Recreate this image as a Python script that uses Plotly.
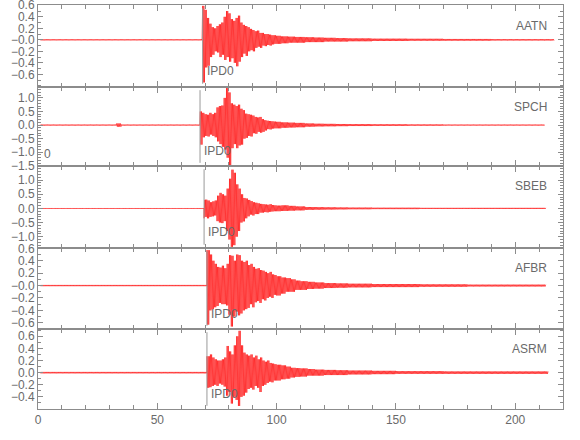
import plotly.graph_objects as go
from plotly.subplots import make_subplots

# ---------------- data ----------------
STATIONS = ["AATN", "SPCH", "SBEB", "AFBR", "ASRM"]
PICKS = [69.0, 67.9, 69.6, 70.8, 70.8]          # IPD0 pick times (s)
T_END = [216.5, 212.5, 213.0, 213.0, 214.0]     # end of each record (s)
PICK_LABEL = "IPD0"

# envelope knots: time (s), upper peak, lower peak (each held until next knot)
AATN_T = [1, 68, 69, 70, 71, 72, 73, 74, 75, 76, 77, 78, 79, 80, 81, 82, 83, 84, 85, 86, 87, 88, 89, 90,
          91, 92, 93, 94, 95, 96, 97, 98, 99, 100, 102, 105, 108, 112, 116, 120, 125, 130, 140, 155, 170, 190]
AATN_HI = [0.01, 0.01, 0.59, 0.52, 0.38, 0.28, 0.22, 0.2, 0.24, 0.27, 0.3, 0.4, 0.5, 0.46, 0.36, 0.33, 0.38,
           0.42, 0.3, 0.26, 0.24, 0.22, 0.19, 0.17, 0.15, 0.16, 0.12, 0.12, 0.1, 0.1, 0.09, 0.08, 0.08, 0.07,
           0.06, 0.055, 0.05, 0.045, 0.04, 0.035, 0.03, 0.025, 0.02, 0.018, 0.015, 0.012]
AATN_LO = [-0.01, -0.01, -0.74, -0.48, -0.45, -0.3, -0.26, -0.2, -0.22, -0.3, -0.26, -0.35, -0.3, -0.38,
           -0.32, -0.4, -0.46, -0.38, -0.3, -0.24, -0.28, -0.2, -0.18, -0.2, -0.14, -0.12, -0.14, -0.1, -0.11,
           -0.09, -0.1, -0.08, -0.07, -0.07, -0.06, -0.05, -0.05, -0.04, -0.04, -0.03, -0.03, -0.025, -0.02,
           -0.016, -0.015, -0.012]

SPCH_T = [1, 33, 35, 68, 69, 70, 71, 72, 73, 74, 75, 76, 77, 78, 79, 80, 81, 82, 83, 84, 85, 86, 87, 88, 89,
          90, 91, 92, 93, 94, 95, 96, 97, 98, 99, 100, 102, 105, 108, 112, 116, 120, 125, 130, 140, 155, 170]
SPCH_HI = [0.02, 0.06, 0.02, 0.5, 0.45, 0.4, 0.38, 0.45, 0.4, 0.45, 0.65, 0.7, 0.72, 1.0, 1.36, 1.2, 0.8, 0.75,
           0.7, 0.75, 0.6, 0.55, 0.42, 0.4, 0.38, 0.35, 0.3, 0.28, 0.3, 0.22, 0.18, 0.16, 0.15, 0.14, 0.13,
           0.12, 0.1, 0.09, 0.08, 0.06, 0.05, 0.045, 0.04, 0.035, 0.03, 0.025, 0.02]
SPCH_LO = [-0.02, -0.06, -0.02, -0.72, -0.45, -0.4, -0.42, -0.35, -0.4, -0.45, -0.6, -0.7, -0.8, -0.9, -1.2,
           -1.49, -0.85, -0.7, -0.85, -0.75, -0.72, -0.5, -0.47, -0.4, -0.42, -0.3, -0.32, -0.25, -0.28, -0.25,
           -0.2, -0.15, -0.16, -0.13, -0.12, -0.12, -0.1, -0.09, -0.08, -0.06, -0.05, -0.045, -0.04, -0.035,
           -0.03, -0.025, -0.02]

SBEB_T = [1, 69.6, 70, 71, 72, 73, 74, 75, 76, 77, 78, 79, 80, 81, 82, 83, 84, 85, 86, 87, 88, 89, 90, 91,
          92, 93, 94, 95, 96, 97, 98, 99, 100, 102, 105, 108, 112, 116, 120, 125, 130, 140, 160]
SBEB_HI = [0.015, 0.3, 0.31, 0.28, 0.22, 0.25, 0.28, 0.45, 0.55, 0.5, 0.45, 0.7, 1.05, 1.37, 1.26, 0.85, 0.7,
           0.5, 0.37, 0.35, 0.3, 0.26, 0.22, 0.2, 0.18, 0.16, 0.15, 0.14, 0.13, 0.15, 0.12, 0.11, 0.1, 0.11,
           0.09, 0.07, 0.05, 0.045, 0.04, 0.035, 0.03, 0.025, 0.02]
SBEB_LO = [-0.015, -0.35, -0.3, -0.35, -0.3, -0.28, -0.25, -0.45, -0.5, -0.52, -0.45, -0.8, -1.1, -1.36, -1.3,
           -1.0, -0.8, -0.5, -0.46, -0.35, -0.28, -0.22, -0.25, -0.2, -0.2, -0.15, -0.15, -0.13, -0.14, -0.12,
           -0.11, -0.1, -0.1, -0.09, -0.08, -0.07, -0.05, -0.045, -0.04, -0.035, -0.03, -0.025, -0.02]

AFBR_T = [1, 70.8, 72, 73, 74, 75, 76, 77, 78, 79, 80, 81, 82, 83, 84, 85, 86, 87, 88, 89, 90, 91, 92, 93,
          94, 95, 96, 97, 98, 99, 100, 102, 104, 106, 108, 110, 113, 116, 120, 125, 130, 140, 160, 180]
AFBR_HI = [0.01, 0.57, 0.5, 0.4, 0.35, 0.3, 0.29, 0.32, 0.28, 0.35, 0.49, 0.48, 0.4, 0.5, 0.49, 0.4, 0.38,
           0.4, 0.33, 0.35, 0.3, 0.27, 0.28, 0.25, 0.24, 0.22, 0.2, 0.22, 0.18, 0.17, 0.15, 0.13, 0.12, 0.1,
           0.08, 0.07, 0.06, 0.05, 0.04, 0.035, 0.03, 0.025, 0.02, 0.015]
AFBR_LO = [-0.01, -0.63, -0.4, -0.38, -0.35, -0.33, -0.28, -0.3, -0.3, -0.32, -0.47, -0.66, -0.5, -0.42,
           -0.48, -0.45, -0.4, -0.38, -0.36, -0.3, -0.35, -0.27, -0.25, -0.28, -0.22, -0.24, -0.2, -0.18,
           -0.2, -0.15, -0.16, -0.13, -0.1, -0.1, -0.07, -0.07, -0.055, -0.05, -0.04, -0.035, -0.03, -0.025,
           -0.02, -0.015]

ASRM_T = [1, 70.8, 72, 73, 74, 75, 76, 77, 78, 79, 80, 81, 82, 83, 84, 85, 86, 87, 88, 89, 90, 91, 92, 93,
          94, 95, 96, 97, 98, 99, 100, 102, 104, 106, 108, 110, 113, 116, 120, 125, 130, 140, 150, 170]
ASRM_HI = [0.012, 0.27, 0.3, 0.25, 0.22, 0.2, 0.2, 0.22, 0.25, 0.44, 0.35, 0.3, 0.45, 0.6, 0.69, 0.45, 0.33,
           0.3, 0.28, 0.3, 0.25, 0.28, 0.22, 0.25, 0.2, 0.18, 0.2, 0.16, 0.15, 0.14, 0.13, 0.12, 0.1, 0.08,
           0.075, 0.07, 0.06, 0.05, 0.045, 0.04, 0.035, 0.03, 0.025, 0.02]
ASRM_LO = [-0.012, -0.25, -0.24, -0.22, -0.2, -0.22, -0.18, -0.2, -0.23, -0.38, -0.32, -0.51, -0.4, -0.45,
           -0.55, -0.4, -0.38, -0.33, -0.27, -0.25, -0.28, -0.22, -0.25, -0.32, -0.22, -0.2, -0.17, -0.15,
           -0.16, -0.13, -0.13, -0.11, -0.1, -0.08, -0.07, -0.065, -0.05, -0.05, -0.04, -0.04, -0.03, -0.025,
           -0.02, -0.02]

ENVELOPES = [(AATN_T, AATN_HI, AATN_LO), (SPCH_T, SPCH_HI, SPCH_LO), (SBEB_T, SBEB_HI, SBEB_LO),
             (AFBR_T, AFBR_HI, AFBR_LO), (ASRM_T, ASRM_HI, ASRM_LO)]

Y_RANGES = [[-0.82, 0.605], [-1.505, 1.4], [-1.4, 1.5], [-0.7, 0.605], [-0.6, 0.72]]
Y_TICKVALS = [[0.6, 0.4, 0.2, 0.0, -0.2, -0.4, -0.6],
              [1.0, 0.5, 0.0, -0.5, -1.0, -1.5],
              [1.0, 0.5, 0.0, -0.5, -1.0],
              [0.6, 0.4, 0.2, 0.0, -0.2, -0.4, -0.6],
              [0.6, 0.4, 0.2, 0.0, -0.2, -0.4]]
Y_TICKTEXT = [["0.6", "0.4", "0.2", "−0.0", "−0.2", "−0.4", "−0.6"],
              ["1.0", "0.5", "0.0", "−0.5", "−1.0", "−1.5"],
              ["1.0", "0.5", "0.0", "−0.5", "−1.0"],
              ["0.6", "0.4", "0.2", "−0.0", "−0.2", "−0.4", "−0.6"],
              ["0.6", "0.4", "0.2", "0.0", "−0.2", "−0.4"]]
X_TICKVALS = [0, 50, 100, 150, 200]
X_TICKTEXT = ["0", "50", "100", "150", "200"]
X_RANGE = [0, 220]

# ---------------- figure ----------------
FONT = "Liberation Sans Narrow, Liberation Sans, Arial, sans-serif"
FS = 12
AXC = "#8c8c8c"
TXC = "#6a6a6a"
DOMAINS = [[0.797, 1.0], [0.6015, 0.797], [0.3985, 0.6015], [0.198, 0.3985], [0.0, 0.198]]


def zigzag(knots, hi, lo, t_end, step=0.25):
    xs, ys = [], []
    j = 0
    for i, t0 in enumerate(knots):
        t1 = knots[i + 1] if i + 1 < len(knots) else t_end
        t = t0
        while t < t1 - 1e-9:
            xs.append(round(t, 3))
            ys.append(hi[i] if j % 2 == 0 else lo[i])
            j += 1
            t += step
    return xs, ys


fig = make_subplots(rows=5, cols=1, shared_xaxes=True, vertical_spacing=0)

for r in range(5):
    kt, hi, lo = ENVELOPES[r]
    xs, ys = zigzag(kt, hi, lo, T_END[r])
    fig.add_trace(go.Scatter(x=xs, y=ys, mode="lines",
                             line=dict(color="rgb(255,0,0)", width=0.6),
                             showlegend=False, hoverinfo="skip"), row=r + 1, col=1)

    ax = "" if r == 0 else str(r + 1)
    fig.add_shape(type="line", xref="x" + ax, yref="y" + ax + " domain",
                  x0=PICKS[r], x1=PICKS[r], y0=0.04, y1=0.96,
                  line=dict(color="#999999", width=1))
    fig.add_annotation(xref="x" + ax, yref="y" + ax + " domain", x=PICKS[r] + 0.9, y=0.19,
                       text=PICK_LABEL, showarrow=False, xanchor="left", yanchor="middle",
                       font=dict(family=FONT, size=FS, color=TXC))
    fig.add_annotation(xref="x" + ax + " domain", yref="y" + ax + " domain", x=0.974, y=0.75,
                       text=STATIONS[r], showarrow=False, xanchor="right", yanchor="middle",
                       font=dict(family=FONT, size=FS, color=TXC))

    fig.update_yaxes(row=r + 1, col=1, domain=DOMAINS[r], range=Y_RANGES[r], automargin=False,
                     tickvals=Y_TICKVALS[r], ticktext=Y_TICKTEXT[r], ticklabeloverflow="allow",
                     ticks="inside", ticklen=5, tickcolor=AXC,
                     minor=dict(dtick=0.1, ticks="inside", ticklen=3, tickcolor=AXC),
                     showline=True, linecolor=AXC, linewidth=1, mirror="allticks",
                     showgrid=False, zeroline=False,
                     tickfont=dict(family=FONT, size=FS, color=TXC))
    fig.update_xaxes(row=r + 1, col=1, range=X_RANGE, tickvals=X_TICKVALS, ticktext=X_TICKTEXT,
                     automargin=False, ticklabeloverflow="allow",
                     ticks="inside", ticklen=6, tickcolor=AXC,
                     minor=dict(dtick=10, ticks="inside", ticklen=4, tickcolor=AXC),
                     showline=True, linecolor=AXC, linewidth=1, mirror="allticks",
                     showgrid=False, zeroline=False, showticklabels=(r == 4),
                     tickfont=dict(family=FONT, size=FS, color=TXC))

# stray "0" label at the start of the SPCH trace
fig.add_annotation(xref="x2", yref="y2 domain", x=1.5, y=0.15, text="0", showarrow=False,
                   xanchor="left", yanchor="middle", font=dict(family=FONT, size=FS, color=TXC))

fig.update_layout(width=580, height=440, margin=dict(l=38, r=17, t=5, b=31),
                  paper_bgcolor="white", plot_bgcolor="white")

fig.write_html("out.html", config={"displayModeBar": False},
               post_script="document.body.style.margin='0px';")
